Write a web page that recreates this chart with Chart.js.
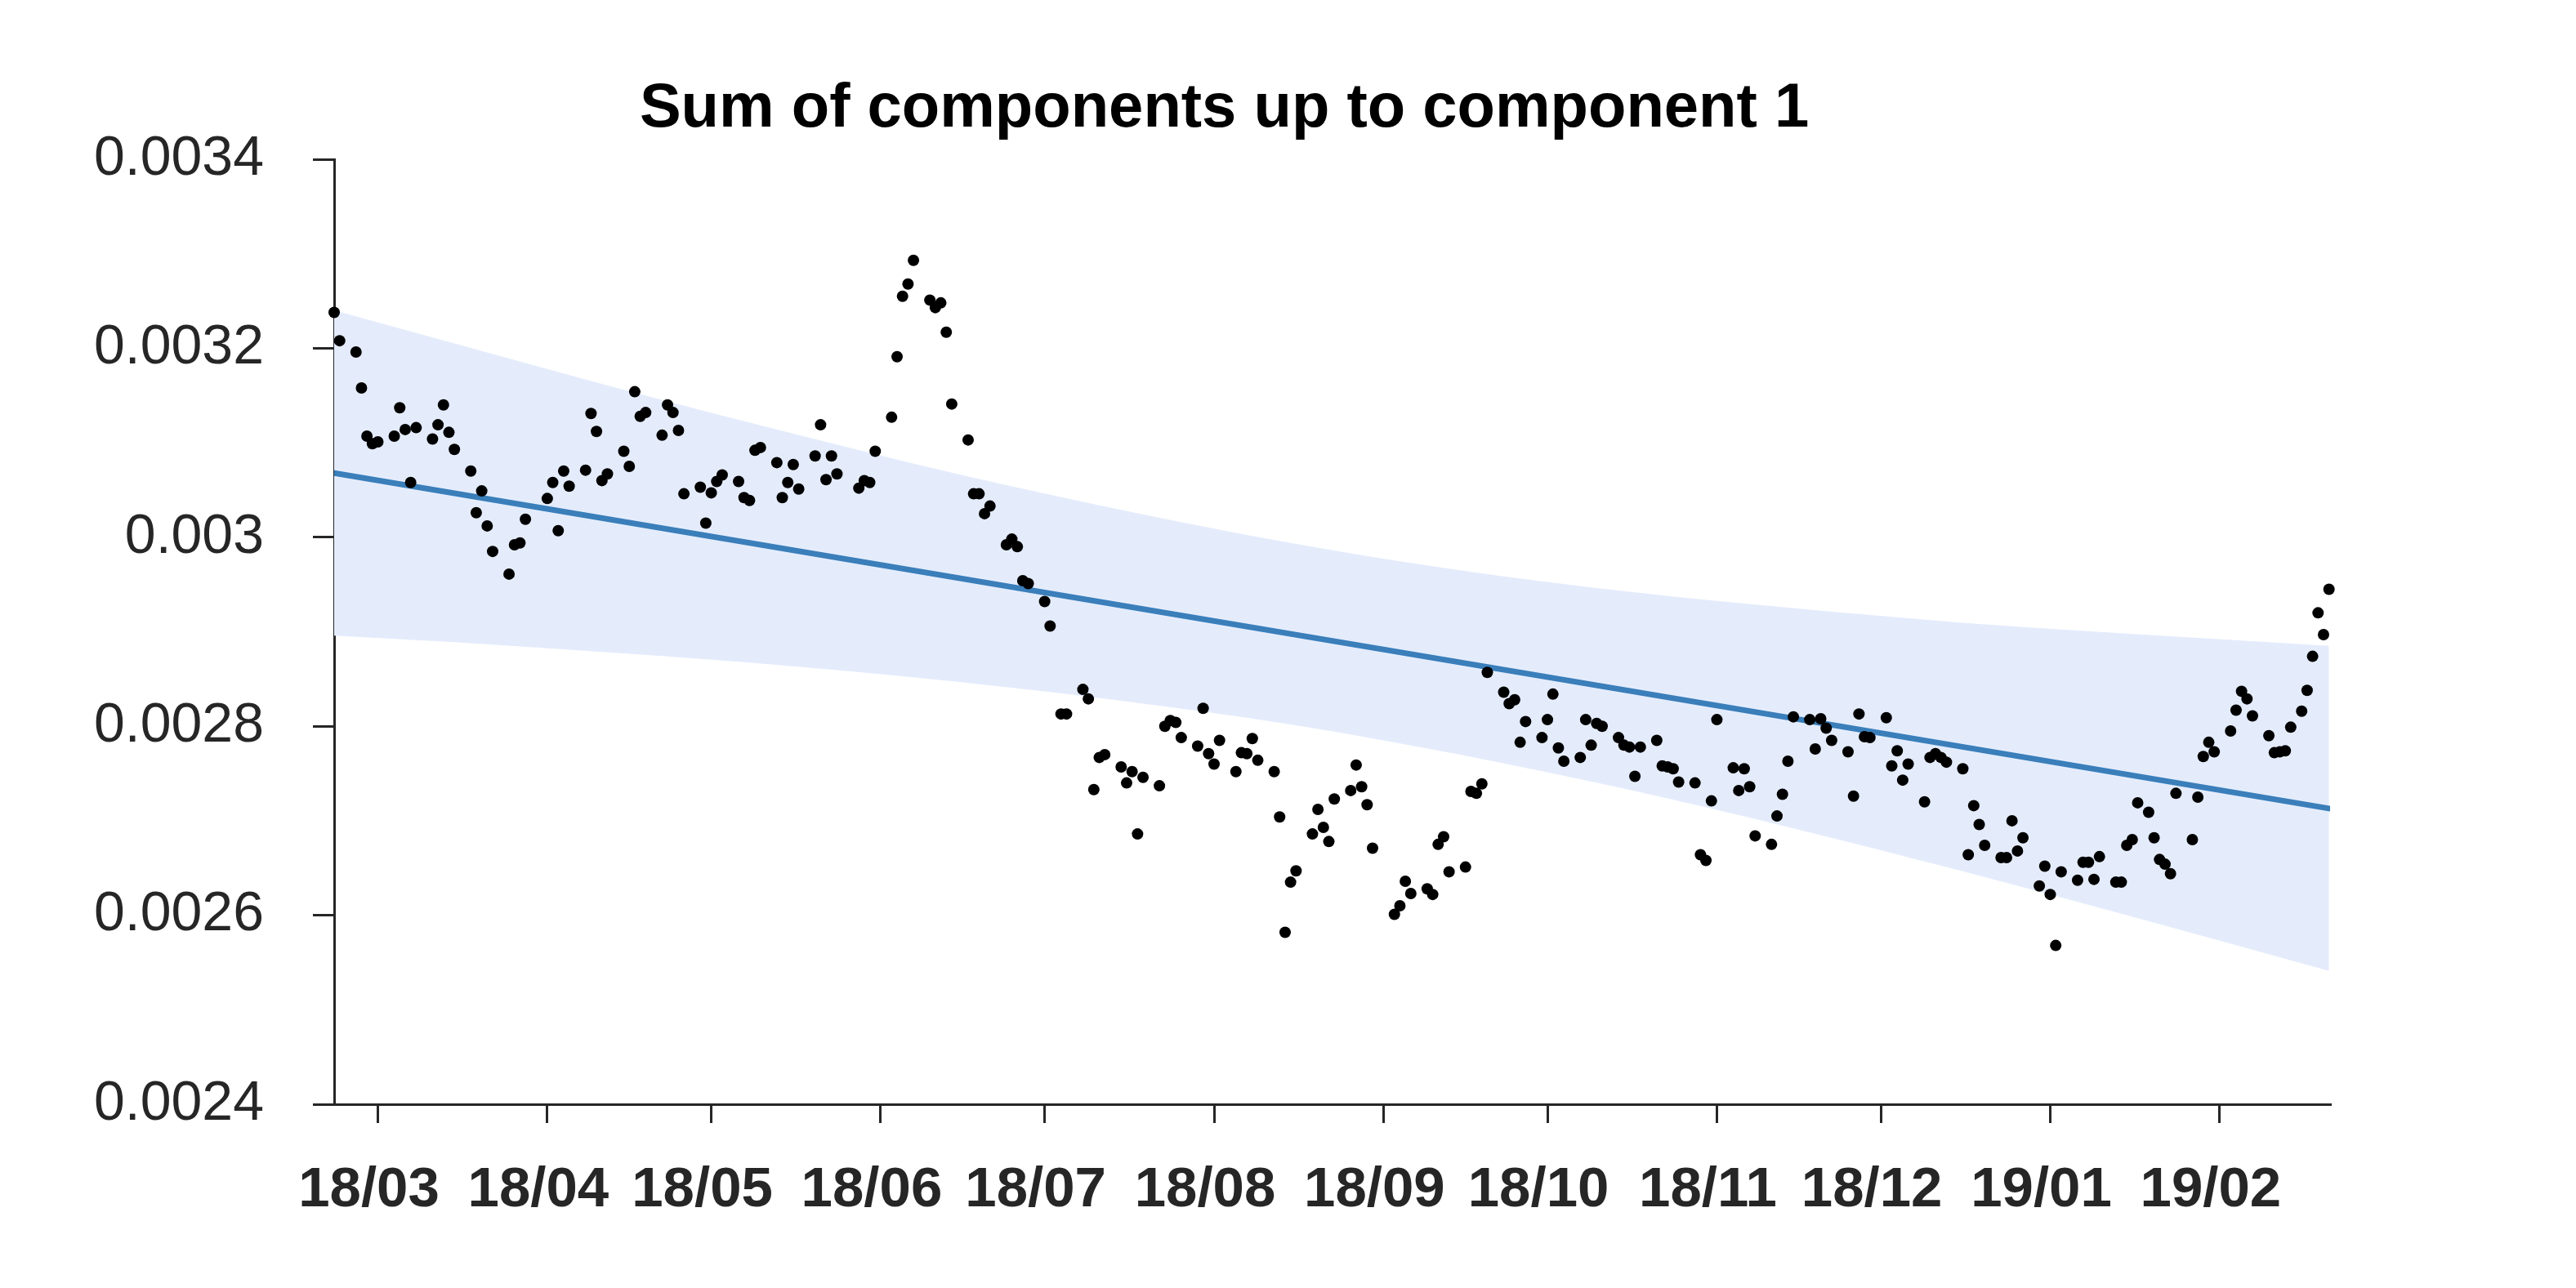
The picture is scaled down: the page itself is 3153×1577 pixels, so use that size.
<!DOCTYPE html>
<html>
<head>
<meta charset="utf-8">
<script src="https://cdn.jsdelivr.net/npm/chart.js@4.4.1/dist/chart.umd.min.js"></script>
<style>
  html, body { margin: 0; padding: 0; background: #ffffff; }
  #wrap { width: 3153px; height: 1577px; }
</style>
</head>
<body>
<div id="wrap"><canvas id="c" width="3153" height="1577"></canvas></div>
<script>
// ---- data ----
const titleText = 'Sum of components up to component 1';

const dates = [
  '2018-02-21','2018-02-22','2018-02-25','2018-02-26','2018-02-27','2018-02-28','2018-03-01',
  '2018-03-04','2018-03-05','2018-03-06','2018-03-07','2018-03-08',
  '2018-03-11','2018-03-12','2018-03-13','2018-03-14','2018-03-15',
  '2018-03-18','2018-03-19','2018-03-20','2018-03-21','2018-03-22',
  '2018-03-25','2018-03-26','2018-03-27','2018-03-28',
  '2018-04-01','2018-04-02','2018-04-03','2018-04-04','2018-04-05',
  '2018-04-08','2018-04-09','2018-04-10','2018-04-11','2018-04-12',
  '2018-04-15','2018-04-16','2018-04-17','2018-04-18','2018-04-19',
  '2018-04-22','2018-04-23','2018-04-24','2018-04-25','2018-04-26',
  '2018-04-29','2018-04-30','2018-05-01','2018-05-02','2018-05-03',
  '2018-05-06','2018-05-07','2018-05-08','2018-05-09','2018-05-10',
  '2018-05-13','2018-05-14','2018-05-15','2018-05-16','2018-05-17',
  '2018-05-20','2018-05-21','2018-05-22','2018-05-23','2018-05-24',
  '2018-05-28','2018-05-29','2018-05-30','2018-05-31',
  '2018-06-03','2018-06-04','2018-06-05','2018-06-06','2018-06-07',
  '2018-06-10','2018-06-11','2018-06-12','2018-06-13','2018-06-14',
  '2018-06-17','2018-06-18','2018-06-19','2018-06-20','2018-06-21',
  '2018-06-24','2018-06-25','2018-06-26','2018-06-27','2018-06-28',
  '2018-07-01','2018-07-02','2018-07-04','2018-07-05',
  '2018-07-08','2018-07-09','2018-07-10','2018-07-11','2018-07-12',
  '2018-07-15','2018-07-16','2018-07-17','2018-07-18','2018-07-19',
  '2018-07-22','2018-07-23','2018-07-24','2018-07-25','2018-07-26',
  '2018-07-29','2018-07-30','2018-07-31','2018-08-01','2018-08-02',
  '2018-08-05','2018-08-06','2018-08-07','2018-08-08','2018-08-09',
  '2018-08-12','2018-08-13','2018-08-14','2018-08-15','2018-08-16',
  '2018-08-19','2018-08-20','2018-08-21','2018-08-22','2018-08-23',
  '2018-08-26','2018-08-27','2018-08-28','2018-08-29','2018-08-30',
  '2018-09-03','2018-09-04','2018-09-05','2018-09-06',
  '2018-09-09','2018-09-10','2018-09-11','2018-09-12','2018-09-13',
  '2018-09-16','2018-09-17','2018-09-18','2018-09-19','2018-09-20',
  '2018-09-23','2018-09-24','2018-09-25','2018-09-26','2018-09-27',
  '2018-09-30','2018-10-01','2018-10-02','2018-10-03','2018-10-04',
  '2018-10-07','2018-10-08','2018-10-09','2018-10-10','2018-10-11',
  '2018-10-14','2018-10-15','2018-10-16','2018-10-17','2018-10-18',
  '2018-10-21','2018-10-22','2018-10-23','2018-10-24','2018-10-25',
  '2018-10-28','2018-10-29','2018-10-30','2018-10-31','2018-11-01',
  '2018-11-04','2018-11-05','2018-11-06','2018-11-07','2018-11-08',
  '2018-11-11','2018-11-12','2018-11-13','2018-11-14','2018-11-15',
  '2018-11-18','2018-11-19','2018-11-20','2018-11-21','2018-11-22',
  '2018-11-25','2018-11-26','2018-11-27','2018-11-28','2018-11-29',
  '2018-12-02','2018-12-03','2018-12-04','2018-12-05','2018-12-06',
  '2018-12-09','2018-12-10','2018-12-11','2018-12-12','2018-12-13',
  '2018-12-16','2018-12-17','2018-12-18','2018-12-19','2018-12-20',
  '2018-12-23','2018-12-24','2018-12-25','2018-12-26','2018-12-27',
  '2018-12-30','2018-12-31','2019-01-01','2019-01-02','2019-01-03',
  '2019-01-06','2019-01-07','2019-01-08','2019-01-09','2019-01-10',
  '2019-01-13','2019-01-14','2019-01-15','2019-01-16','2019-01-17',
  '2019-01-19','2019-01-20','2019-01-21','2019-01-22','2019-01-23','2019-01-24',
  '2019-01-27','2019-01-28','2019-01-29','2019-01-30','2019-01-31',
  '2019-02-03','2019-02-04','2019-02-05','2019-02-06','2019-02-07',
  '2019-02-10','2019-02-11','2019-02-12','2019-02-13','2019-02-14',
  '2019-02-16','2019-02-17','2019-02-18','2019-02-19','2019-02-20','2019-02-21'
];

const values = [
  0.003238,0.003208,0.003196,0.003158,0.003107,0.003099,0.003101,
  0.003107,0.003137,0.003114,0.003058,0.003116,
  0.003104,0.003119,0.003140,0.003111,0.003093,
  0.003070,0.003026,0.003049,0.003012,0.002985,
  0.002961,0.002992,0.002994,0.003019,
  0.003041,0.003058,0.003007,0.003070,0.003054,
  0.003071,0.003131,0.003112,0.003060,0.003067,
  0.003091,0.003075,0.003154,0.003128,0.003132,
  0.003108,0.003140,0.003132,0.003113,0.003046,
  0.003053,0.003015,0.003047,0.003059,0.003066,
  0.003059,0.003042,0.003039,0.003092,0.003095,
  0.003079,0.003042,0.003058,0.003077,0.003051,
  0.003086,0.003119,0.003061,0.003086,0.003067,
  0.003052,0.003060,0.003058,0.003091,
  0.003127,0.003191,0.003255,0.003268,0.003293,
  0.003251,0.003243,0.003248,0.003217,0.003141,
  0.003103,0.003046,0.003046,0.003025,0.003033,
  0.002992,0.002998,0.002990,0.002954,0.002951,
  0.002932,0.002906,0.002813,0.002813,
  0.002839,0.002829,0.002733,0.002767,0.002770,
  0.002757,0.002740,0.002752,0.002686,0.002746,
  0.002737,0.002800,0.002806,0.002804,0.002788,
  0.002779,0.002819,0.002771,0.002760,0.002785,
  0.002752,0.002772,0.002771,0.002787,0.002764,
  0.002752,0.002704,0.002582,0.002635,0.002647,
  0.002686,0.002712,0.002693,0.002678,0.002723,
  0.002732,0.002759,0.002736,0.002717,0.002671,
  0.002601,0.002610,0.002636,0.002623,
  0.002628,0.002622,0.002675,0.002683,0.002646,
  0.002651,0.002731,0.002729,0.002739,0.002857,
  0.002836,0.002824,0.002828,0.002783,0.002805,
  0.002788,0.002807,0.002834,0.002777,0.002763,
  0.002767,0.002807,0.002780,0.002803,0.002800,
  0.002788,0.002780,0.002778,0.002747,0.002778,
  0.002785,0.002758,0.002757,0.002755,0.002741,
  0.002740,0.002664,0.002658,0.002721,0.002807,
  0.002756,0.002732,0.002755,0.002736,0.002684,
  0.002675,0.002705,0.002728,0.002763,0.002810,
  0.002807,0.002776,0.002808,0.002798,0.002785,
  0.002773,0.002726,0.002813,0.002789,0.002788,
  0.002809,0.002758,0.002774,0.002743,0.002760,
  0.002720,0.002767,0.002771,0.002767,0.002762,
  0.002755,0.002664,0.002716,0.002696,0.002674,
  0.002661,0.002661,0.002700,0.002668,0.002682,
  0.002631,0.002652,0.002622,0.002568,0.002646,
  0.002637,0.002656,0.002656,0.002638,0.002662,
  0.002635,0.002635,0.002674,0.002680,0.002719,
  0.002709,0.002682,0.002659,0.002654,0.002644,0.002729,
  0.002680,0.002725,0.002768,0.002783,0.002773,
  0.002795,0.002817,0.002837,0.002829,0.002811,
  0.002790,0.002772,0.002773,0.002774,0.002799,
  0.002816,0.002838,0.002874,0.002920,0.002897,0.002945
];

// fitted trend line (end points)
const trendDates  = ['2018-02-21', '2019-02-21'];
const trendValues = [0.003068, 0.002713];

// confidence band edges
const bandDates = ['2018-02-21','2018-03-15','2018-04-15','2018-05-15','2018-06-15','2018-07-15',
                   '2018-08-15','2018-09-15','2018-10-15','2018-11-15','2018-12-15','2019-01-15','2019-02-21'];
const bandUpper = [0.003240,0.003205,0.003156,0.003111,0.003067,0.003029,
                   0.002994,0.002965,0.002943,0.002925,0.002910,0.002898,0.002885];
const bandLower = [0.002896,0.002889,0.002877,0.002864,0.002847,0.002827,
                   0.002802,0.002770,0.002734,0.002692,0.002648,0.002600,0.002541];

// axis ticks
const xTickDates  = ['2018-03-01','2018-04-01','2018-05-01','2018-06-01','2018-07-01','2018-08-01',
                     '2018-09-01','2018-10-01','2018-11-01','2018-12-01','2019-01-01','2019-02-01'];
const xTickLabels = ['18/03','18/04','18/05','18/06','18/07','18/08','18/09','18/10','18/11','18/12','19/01','19/02'];
const yTickValues = [0.0024, 0.0026, 0.0028, 0.003, 0.0032, 0.0034];
const yTickLabels = ['0.0024','0.0026','0.0028','0.003','0.0032','0.0034'];

// ---- helpers ----
function dayNum(s) {
  const p = s.split('-').map(Number);
  return Date.UTC(p[0], p[1] - 1, p[2]) / 86400000;
}
const pts   = dates.map((d, i) => ({ x: dayNum(d), y: values[i] }));
const trend = trendDates.map((d, i) => ({ x: dayNum(d), y: trendValues[i] }));
const upper = bandDates.map((d, i) => ({ x: dayNum(d), y: bandUpper[i] }));
const lower = bandDates.map((d, i) => ({ x: dayNum(d), y: bandLower[i] }));
const xTicks = xTickDates.map(dayNum);

const AX = '#262626';
const titlePlugin = {
  id: 'customTitle',
  afterDraw(chart) {
    const ca = chart.chartArea, ctx = chart.ctx;
    ctx.save();
    ctx.font = 'bold 76px "Liberation Sans", Arial, sans-serif';
    ctx.fillStyle = '#000000';
    ctx.textAlign = 'center';
    ctx.textBaseline = 'alphabetic';
    ctx.fillText(titleText, ca.left + 0.446 * (ca.right - ca.left), ca.top - 40);
    ctx.restore();
  }
};

new Chart(document.getElementById('c'), {
  type: 'line',
  data: {
    datasets: [
      { label: 'points', data: pts, showLine: false, pointRadius: 7, pointHoverRadius: 7,
        pointBackgroundColor: '#000000', pointBorderWidth: 0, clip: false, order: 0 },
      { label: 'trend', data: trend, borderColor: '#3A7EBA', borderWidth: 7, pointRadius: 0,
        borderCapStyle: 'round', fill: false, order: 1 },
      { label: 'upper', data: upper, borderWidth: 0, borderColor: 'rgba(0,0,0,0)', pointRadius: 0,
        backgroundColor: 'rgb(228,236,252)', fill: '+1', cubicInterpolationMode: 'monotone', order: 2 },
      { label: 'lower', data: lower, borderWidth: 0, borderColor: 'rgba(0,0,0,0)', pointRadius: 0,
        fill: false, cubicInterpolationMode: 'monotone', order: 3 }
    ]
  },
  options: {
    responsive: false,
    animation: false,
    devicePixelRatio: 1,
    events: [],
    layout: { padding: { left: 0, right: 301, top: 195, bottom: 0 } },
    plugins: { legend: { display: false }, title: { display: false }, tooltip: { enabled: false } },
    scales: {
      x: {
        type: 'linear',
        min: dayNum(dates[0]),
        max: dayNum(dates[dates.length - 1]) + 0.2,
        afterBuildTicks(scale) { scale.ticks = xTicks.map(v => ({ value: v })); },
        afterFit(scale) { scale.height = 225; },
        border: { display: true, color: AX, width: 3 },
        grid: { display: true, drawOnChartArea: false, drawTicks: true, tickLength: 23, color: AX, lineWidth: 3 },
        ticks: {
          autoSkip: false, maxRotation: 0, padding: 42, labelOffset: -11, color: AX,
          font: { family: '"Liberation Sans", Arial, sans-serif', size: 69, weight: 'bold' },
          callback(v) { const i = xTicks.indexOf(v); return i >= 0 ? xTickLabels[i] : ''; }
        }
      },
      y: {
        type: 'linear',
        min: 0.0024,
        max: 0.0034,
        afterBuildTicks(scale) { scale.ticks = yTickValues.map(v => ({ value: v })); },
        afterFit(scale) { scale.width = 409; },
        border: { display: true, color: AX, width: 3 },
        grid: { display: true, drawOnChartArea: false, drawTicks: true, tickLength: 26, color: AX, lineWidth: 3 },
        ticks: {
          padding: 60, color: AX,
          font: { family: '"Liberation Sans", Arial, sans-serif', size: 68 },
          callback(v) {
            const i = yTickValues.findIndex(t => Math.abs(t - v) < 1e-9);
            return i >= 0 ? yTickLabels[i] : '';
          }
        }
      }
    }
  },
  plugins: [titlePlugin]
});
</script>
</body>
</html>
